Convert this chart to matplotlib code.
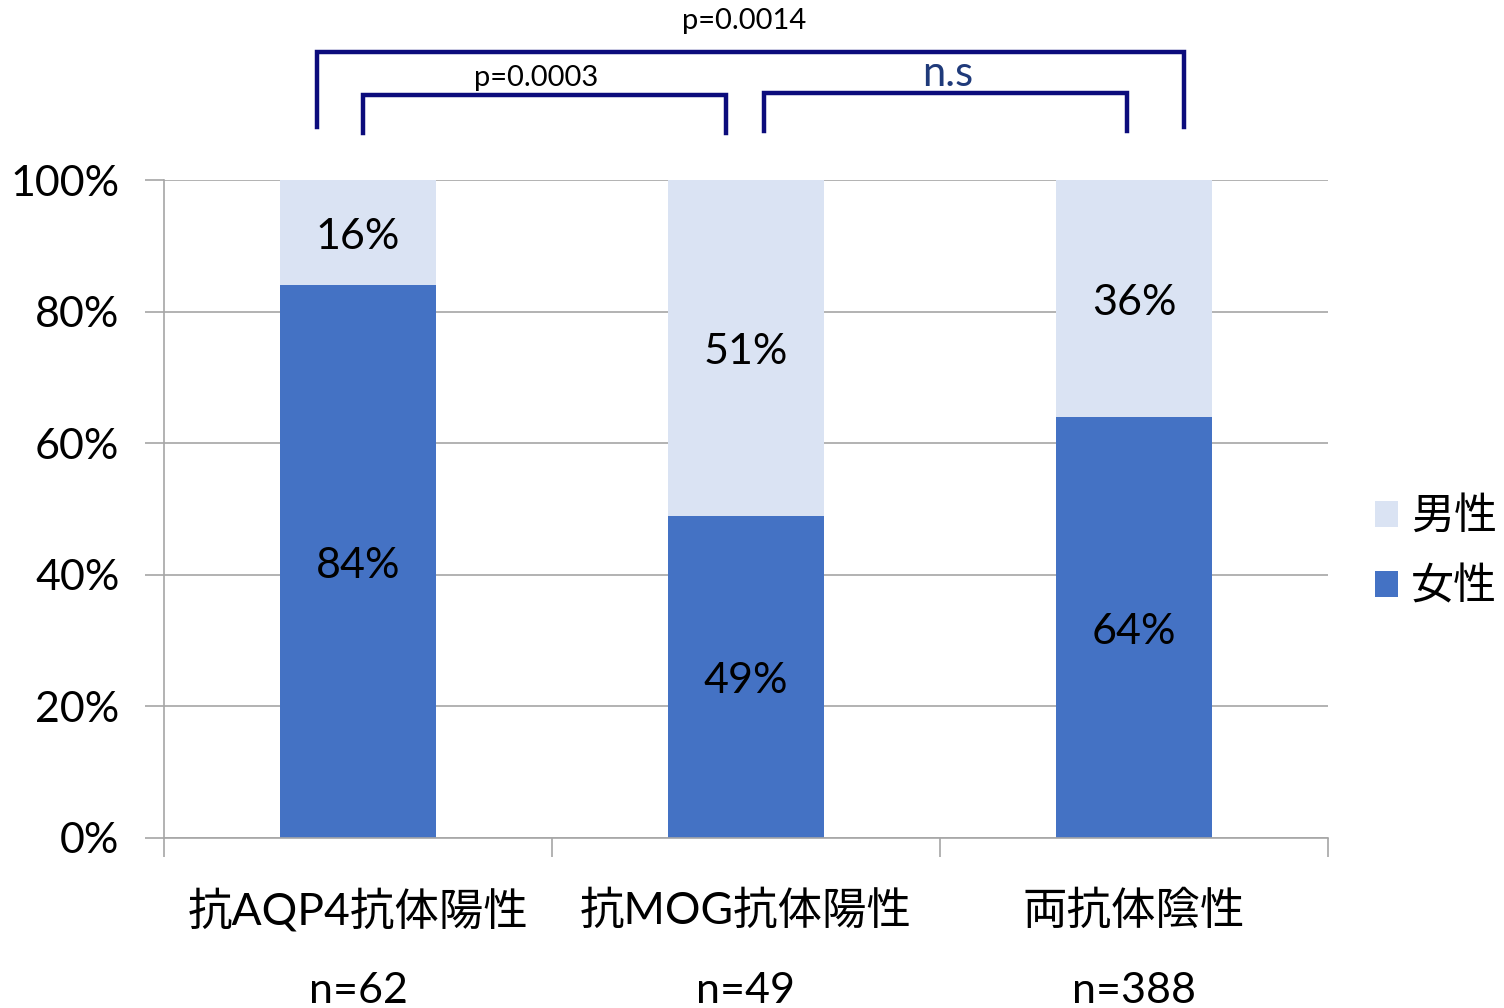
import numpy as np
import matplotlib.pyplot as plt

plt.rcParams['font.family'] = ['Lato', 'Noto Sans CJK JP', 'DejaVu Sans']

groups = ['抗AQP4抗体陽性', '抗MOG抗体陽性', '両抗体陰性']
counts = ['n=62', 'n=49', 'n=388']
female = [84, 49, 64]
male = [16, 51, 36]
female_lbl = ['84%', '49%', '64%']
male_lbl = ['16%', '51%', '36%']
# (left group, left offset, right group, right offset, label)
brackets = [
    (0, -0.106, 2, 0.129, 'p=0.0014'),
    (0, 0.013, 1, -0.052, 'p=0.0003'),
    (1, 0.046, 2, -0.018, 'n.s'),
]

c_f = '#4472C4'
c_m = '#DAE3F3'
navy = '#0C0C7C'
fs = 31

fig = plt.figure(figsize=(15.04, 10.08), dpi=100)
ax = fig.add_axes([0.109, 0.1687, 0.774, 0.6527])

x = np.arange(len(groups))
w = 0.402
ax.bar(x, female, w, color=c_f, label='女性', zorder=2)
ax.bar(x, male, w, bottom=female, color=c_m, label='男性', zorder=2)

for i in x:
    ax.annotate(female_lbl[i], (i, female[i] / 2), xytext=(0, -3), textcoords='offset points',
                ha='center', va='center', fontsize=fs, zorder=3)
    ax.annotate(male_lbl[i], (i, female[i] + male[i] / 2), xytext=(0, -3), textcoords='offset points',
                ha='center', va='center', fontsize=fs, zorder=3)

ax.set_xlim(-0.5, 2.5)
ax.set_ylim(0, 100)
ax.set_yticks(range(0, 101, 20))
ax.set_yticklabels([f'{v}%' for v in range(0, 101, 20)], fontsize=fs)
ax.yaxis.grid(True, color='#A6A6A6', lw=1.2, zorder=0)
ax.tick_params(axis='y', length=14, color='#A6A6A6', width=1.2, pad=18)

ax.set_xticks(np.arange(-0.5, 3, 1))
ax.set_xticklabels([])
ax.tick_params(axis='x', length=14, color='#A6A6A6', width=1.2)

for s in ['top', 'right']:
    ax.spines[s].set_visible(False)
ax.spines['left'].set_color('#A6A6A6')
ax.spines['bottom'].set_color('#A6A6A6')
ax.spines['left'].set_linewidth(1.2)
ax.spines['bottom'].set_linewidth(1.2)

tr = ax.get_xaxis_transform()
for i in x:
    ax.text(i, -0.111, groups[i], transform=tr, ha='center', va='center', fontsize=fs + 1)
    ax.text(i, -0.232, counts[i], transform=tr, ha='center', va='center', fontsize=fs)

# significance brackets
levels = [(1.1945, 1.0805), (1.129, 1.071), (1.132, 1.074)]
for (g1, o1, g2, o2, lbl), (top, leg) in zip(brackets, levels):
    x1, x2 = g1 + o1, g2 + o2
    ax.plot([x1, x1, x2, x2], [leg, top, top, leg], color=navy, lw=3.2,
            transform=tr, clip_on=False, solid_joinstyle='miter')
ax.text(0.995, 1.242, brackets[0][4], transform=tr, ha='center', va='center', fontsize=21)
ax.text(0.46, 1.155, brackets[1][4], transform=tr, ha='center', va='center', fontsize=21)
ax.text(1.52, 1.161, brackets[2][4], transform=tr, ha='center', va='center', fontsize=30, color='#1F3A7A')

h, l = ax.get_legend_handles_labels()
fig.legend(h[::-1], l[::-1], loc='center left', bbox_to_anchor=(0.914, 0.453),
           frameon=False, fontsize=fs, handlelength=0.55, handleheight=0.55,
           handletextpad=0.3, labelspacing=0.7, borderpad=0, borderaxespad=0)

fig.savefig('out.png', dpi=100)
